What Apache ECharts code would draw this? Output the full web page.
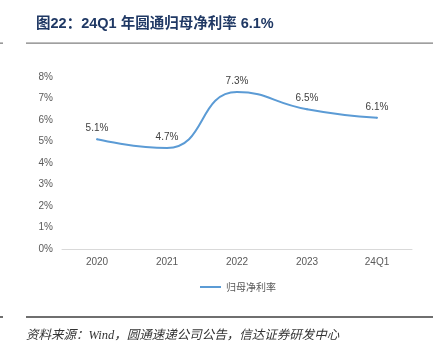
<!DOCTYPE html>
<html>
<head>
<meta charset="utf-8">
<script src="https://cdn.jsdelivr.net/npm/echarts@6/dist/echarts.min.js"></script>
<style>
  html, body { margin: 0; padding: 0; background: #fff; }
  #chartDom { width: 441px; height: 352px; }
</style>
</head>
<body>
<div id="chartDom"></div>
<script>
// data
const categories = ["2020", "2021", "2022", "2023", "24Q1"];
const netMargin = [5.1, 4.7, 7.3, 6.5, 6.1];
const seriesName = "归母净利率";
const titleText = "图22：24Q1 年圆通归母净利率 6.1%";
const sourceText = "资料来源：Wind，圆通速递公司公告，信达证券研发中心";

const myChart = echarts.init(document.getElementById("chartDom"));
const font = "'Liberation Sans', 'Noto Sans CJK SC', sans-serif";

const option = {
  animation: false,
  textStyle: { fontFamily: font },
  grid: { left: 62, right: 29, top: 77, bottom: 103 },
  legend: {
    data: [seriesName],
    left: 195,
    top: 277,
    icon: "rect",
    itemWidth: 21,
    itemHeight: 2,
    itemGap: 4,
    textStyle: { fontSize: 10, color: "#595959", fontFamily: "'Noto Sans CJK SC', sans-serif" },
  },
  xAxis: {
    type: "category",
    data: categories,
    boundaryGap: true,
    axisLine: { lineStyle: { color: "#d9d9d9", width: 1 } },
    axisTick: { show: false },
    axisLabel: { color: "#595959", fontSize: 10, margin: 8 },
  },
  yAxis: {
    type: "value",
    min: 0,
    max: 8,
    interval: 1,
    axisLine: { show: false },
    axisTick: { show: false },
    splitLine: { show: false },
    axisLabel: { color: "#595959", fontSize: 10, margin: 9, formatter: "{value}%" },
  },
  series: [
    {
      name: seriesName,
      type: "line",
      data: netMargin,
      smooth: 0.5,
      showSymbol: true,
      symbol: "circle",
      symbolSize: 2,
      lineStyle: { color: "#5B9BD5", width: 2 },
      itemStyle: { color: "#5B9BD5" },
      label: {
        show: true,
        position: "top",
        distance: 5,
        color: "#404040",
        fontSize: 10,
        formatter: (p) => p.value.toFixed(1) + "%",
      },
    },
  ],
  graphic: [
    {
      type: "text",
      left: 36,
      top: 17,
      style: {
        text: titleText,
        fill: "#1F3864",
        font: "bold 14.5px 'Liberation Sans', 'Noto Sans CJK SC', sans-serif",
      },
    },
    { type: "rect", shape: { x: 26, y: 42.5, width: 407, height: 1.3 }, style: { fill: "#7f7f7f" } },
    { type: "rect", shape: { x: 0, y: 42.5, width: 3, height: 1.3 }, style: { fill: "#7f7f7f" } },
    { type: "rect", shape: { x: 26, y: 316, width: 407, height: 2 }, style: { fill: "#6f6f6f" } },
    { type: "rect", shape: { x: 0, y: 316, width: 3, height: 2 }, style: { fill: "#6f6f6f" } },
    {
      type: "text",
      x: 26,
      y: 329,
      style: {
        text: sourceText,
        fill: "#333333",
        font: "italic 12.5px 'Liberation Serif', 'Noto Sans CJK SC', serif",
      },
    },
  ],
};

option && myChart.setOption(option);
</script>
</body>
</html>
